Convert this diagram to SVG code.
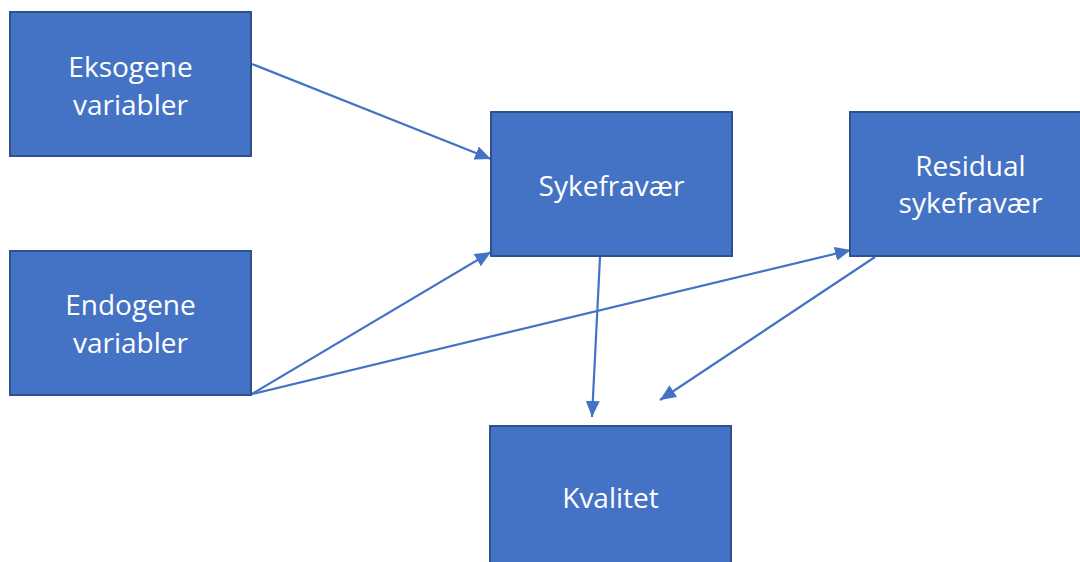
<svg xmlns="http://www.w3.org/2000/svg" width="1080" height="562" viewBox="0 0 1080 562">
<style>
.box{fill:#4472C4;stroke:#2F528F;stroke-width:2}
.lbl{fill:#FFFFFF;font-family:"Open Sans","Liberation Sans",sans-serif;font-size:28px;text-anchor:middle}
.con{stroke:#4472C4;stroke-width:2.2;fill:none;marker-end:url(#ah)}
</style>
<defs>
<marker id="ah" markerUnits="userSpaceOnUse" markerWidth="16" markerHeight="14" refX="16" refY="7" orient="auto">
<path d="M0,0 L16,7 L0,14 Z" fill="#4472C4"/>
</marker>
</defs>
<rect width="1080" height="562" fill="#FFFFFF"/>
<g id="connectors">
<line class="con" x1="252" y1="64" x2="491" y2="159"/>
<line class="con" x1="252" y1="394" x2="491" y2="252"/>
<line class="con" x1="252" y1="394" x2="851" y2="250"/>
<line class="con" x1="600" y1="257" x2="592" y2="417"/>
<line class="con" x1="875" y1="257" x2="660" y2="400"/>
</g>
<g id="eksogene">
<rect class="box" x="10" y="12" width="241" height="144"/>
<text class="lbl" x="130.5" y="77">Eksogene</text>
<text class="lbl" x="130.5" y="115">variabler</text>
</g>
<g id="endogene">
<rect class="box" x="10" y="251" width="241" height="144"/>
<text class="lbl" x="130.5" y="315">Endogene</text>
<text class="lbl" x="130.5" y="353">variabler</text>
</g>
<g id="sykefravaer">
<rect class="box" x="491" y="112" width="241" height="144"/>
<text class="lbl" x="611.5" y="196">Sykefravær</text>
</g>
<g id="residual">
<rect class="box" x="850" y="112" width="241" height="144"/>
<text class="lbl" x="970.5" y="176">Residual</text>
<text class="lbl" x="970.5" y="213">sykefravær</text>
</g>
<g id="kvalitet">
<rect class="box" x="490" y="426" width="241" height="144"/>
<text class="lbl" x="610.5" y="508">Kvalitet</text>
</g>
</svg>
